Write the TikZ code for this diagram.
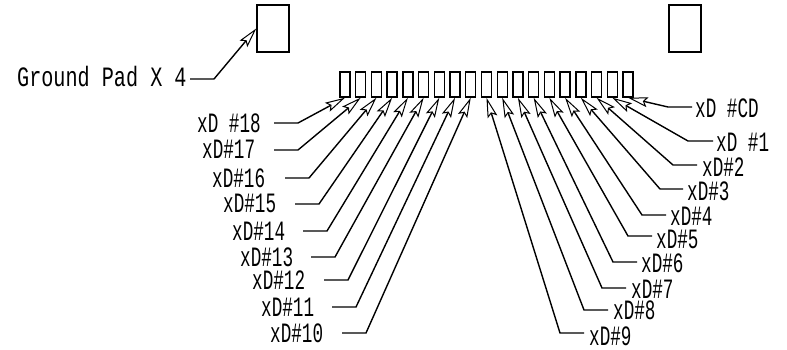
\documentclass[tikz,border=0pt]{standalone}
\usepackage{fontspec}
\usetikzlibrary{arrows.meta}
\newfontfamily\cadfont[FakeStretch=0.63]{Liberation Mono}
\newfontfamily\cadwide[FakeStretch=0.72]{Liberation Mono}
\tikzset{
  padbox/.style={draw=black,line width=1.4pt,fill=white,inner sep=0pt,minimum width=10pt,minimum height=25pt},
  bigpad/.style={draw=black,line width=1.4pt,fill=white,inner sep=0pt,minimum width=32pt,minimum height=47pt},
  lab/.style={anchor=base west,inner sep=0pt,font=\cadfont\fontsize{28}{28}\selectfont},
  labwide/.style={anchor=base west,inner sep=0pt,font=\cadwide\fontsize{28}{28}\selectfont},
  conn/.style={draw=black,line width=1.4pt,line join=miter,
    -{Stealth[length=20pt,width=10pt,inset=3.5pt,fill=white,line width=1pt]}}
}
\begin{document}
\begin{tikzpicture}[x=1pt,y=-1pt]
\useasboundingbox (0,0) rectangle (787,350);
\node[bigpad] (gl) at (273,28.5) {};
\node[bigpad] (gr) at (685,28.5) {};
\foreach \i in {0,...,18}
  \node[padbox] (p\i) at ({345+15.72*\i},84.5) {};
\node[labwide] (ground) at (17,87) {Ground Pad X 4};
\coordinate (gs) at (190,79);
\coordinate (ge) at (214,79);
\draw[conn] (gs) -- (ge) -- (gl.west);
% name / text / text left / baseline / line start / elbow / line y / pad
\foreach \n/\t/\lx/\by/\sx/\ex/\ly/\p in {
  a/{xD \#18}/197/132/274/298/123/0,
  b/{xD\#17}/202/158/274/298/150/1,
  c/{xD\#16}/212/187/285/309/178/2,
  d/{xD\#15}/223/212/295/319/204/3,
  e/{xD\#14}/232/240/303/327/231/4,
  f/{xD\#13}/240/266/311/335/257/5,
  g/{xD\#12}/252/289/324/348/280/6,
  h/{xD\#11}/261/316/332/356/307/7,
  i/{xD\#10}/270/342/342/366/333/8}
{
  \node[lab] (l\n) at (\lx,\by) {\t};
  \coordinate (s\n) at (\sx,\ly);
  \coordinate (e\n) at (\ex,\ly);
  \draw[conn] (s\n) -- (e\n) -- (p\p.south);
}
\foreach \n/\t/\lx/\by/\sx/\ex/\ly/\p in {
  j/{xD\#9}/589/345/584/560/333/9,
  k/{xD\#8}/613/319/608/584/310/10,
  m/{xD\#7}/631/298/626/602/288/11,
  n/{xD\#6}/641/272/637/613/262/12,
  o/{xD\#5}/656/248/652/628/236/13,
  q/{xD\#4}/670/225/666/642/215/14,
  r/{xD\#3}/687/200/683/660/189/15,
  s/{xD\#2}/702/176/697/673/165/16,
  t/{xD \#1}/716/152/713/688/141/17,
  u/{xD \#CD}/695/118/692/668/107/18}
{
  \node[lab] (l\n) at (\lx,\by) {\t};
  \coordinate (s\n) at (\sx,\ly);
  \coordinate (e\n) at (\ex,\ly);
  \draw[conn] (s\n) -- (e\n) -- (p\p.south);
}
\end{tikzpicture}
\end{document}
